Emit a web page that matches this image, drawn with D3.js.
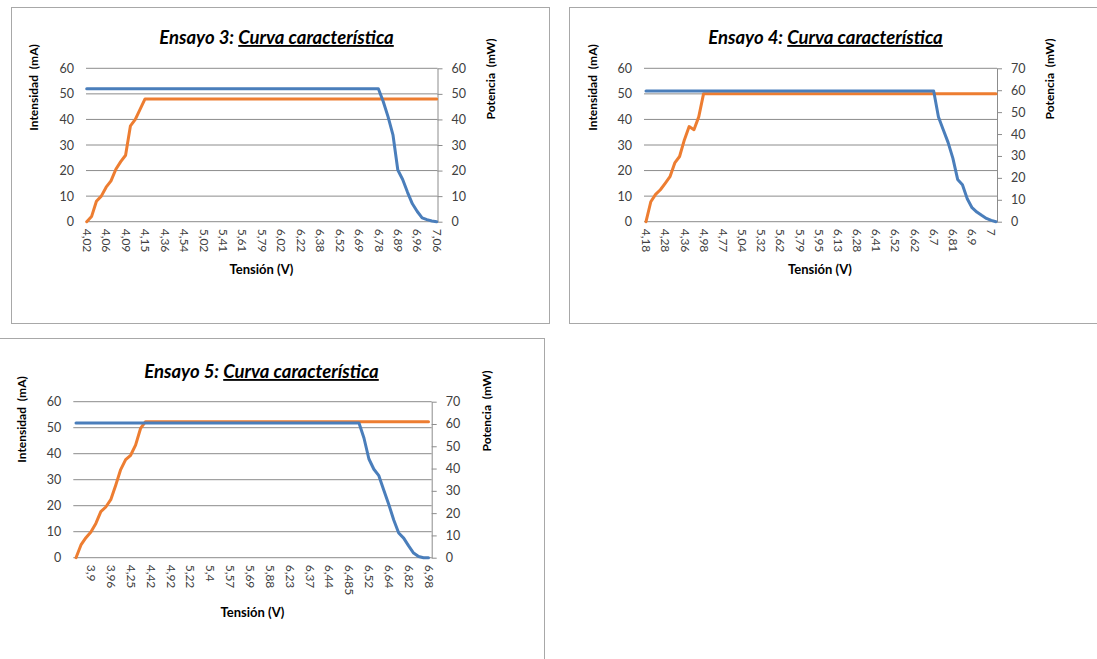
<!DOCTYPE html>
<html>
<head>
<meta charset="utf-8">
<script src="https://cdn.jsdelivr.net/npm/d3@7"></script>
<style>
  body { margin: 0; background: #fff; }
  svg { display: block; }
  text { font-family: Lato, "Open Sans", sans-serif; }
</style>
</head>
<body>
<svg id="chart" width="1097" height="659"></svg>
<script>
// ---------- Ensayo 3 ----------
const tension3 = ["4,02","4,06","4,09","4,15","4,36","4,54","5,02","5,41","5,61","5,79",
                  "6,02","6,22","6,38","6,52","6,69","6,78","6,89","6,96","7,06"];
// Intensidad (mA), left axis
const intensidad3 = [
  0, 2, 8, 10, 13.5, 16, 20.5, 23.5, 26, 37.5,
  40, 44, 48, 48, 48, 48, 48, 48, 48, 48,
  48, 48, 48, 48, 48, 48, 48, 48, 48, 48,
  48, 48, 48, 48, 48, 48, 48, 48, 48, 48,
  48, 48, 48, 48, 48, 48, 48, 48, 48, 48,
  48, 48, 48, 48, 48, 48, 48, 48, 48, 48,
  48, 48, 48, 48, 48, 48, 48, 48, 48, 48,
  48, 48, 48
];
// Potencia (mW), right axis
const potencia3 = [
  52, 52, 52, 52, 52, 52, 52, 52, 52, 52,
  52, 52, 52, 52, 52, 52, 52, 52, 52, 52,
  52, 52, 52, 52, 52, 52, 52, 52, 52, 52,
  52, 52, 52, 52, 52, 52, 52, 52, 52, 52,
  52, 52, 52, 52, 52, 52, 52, 52, 52, 52,
  52, 52, 52, 52, 52, 52, 52, 52, 52, 52,
  52, 47, 41, 34, 20.2, 16.5, 11.5, 7, 4, 1.5,
  0.8, 0.3, 0
];

// ---------- Ensayo 4 ----------
const tension4 = ["4,18","4,28","4,36","4,98","4,77","5,04","5,32","5,62","5,79","5,95",
                  "6,13","6,28","6,41","6,52","6,62","6,7","6,81","6,9","7"];
const intensidad4 = [
  0, 7.8, 10.7, 12.5, 15, 17.6, 23, 25.5, 32, 37.2,
  36, 41, 50, 50, 50, 50, 50, 50, 50, 50,
  50, 50, 50, 50, 50, 50, 50, 50, 50, 50,
  50, 50, 50, 50, 50, 50, 50, 50, 50, 50,
  50, 50, 50, 50, 50, 50, 50, 50, 50, 50,
  50, 50, 50, 50, 50, 50, 50, 50, 50, 50,
  50, 50, 50, 50, 50, 50, 50, 50, 50, 50,
  50, 50, 50, 50
];
const potencia4 = [
  59.6, 59.6, 59.6, 59.6, 59.6, 59.6, 59.6, 59.6, 59.6, 59.6,
  59.6, 59.6, 59.6, 59.6, 59.6, 59.6, 59.6, 59.6, 59.6, 59.6,
  59.6, 59.6, 59.6, 59.6, 59.6, 59.6, 59.6, 59.6, 59.6, 59.6,
  59.6, 59.6, 59.6, 59.6, 59.6, 59.6, 59.6, 59.6, 59.6, 59.6,
  59.6, 59.6, 59.6, 59.6, 59.6, 59.6, 59.6, 59.6, 59.6, 59.6,
  59.6, 59.6, 59.6, 59.6, 59.6, 59.6, 59.6, 59.6, 59.6, 59.6,
  59.6, 47.8, 42, 36.2, 29, 19.3, 16.9, 10.5, 6.4, 4.4,
  2.9, 1.5, 0.6, 0
];

// ---------- Ensayo 5 ----------
const tension5 = ["3,9","3,96","4,25","4,42","4,92","5,22","5,4","5,57","5,69","5,88",
                  "6,23","6,37","6,44","6,485","6,52","6,64","6,82","6,98"];
const intensidad5 = [
  0, 4.9, 7.7, 9.9, 13.2, 17.7, 19.5, 22.3, 27.9, 33.9,
  37.7, 39.4, 43.3, 49.7, 52.3, 52.3, 52.3, 52.3, 52.3, 52.3,
  52.3, 52.3, 52.3, 52.3, 52.3, 52.3, 52.3, 52.3, 52.3, 52.3,
  52.3, 52.3, 52.3, 52.3, 52.3, 52.3, 52.3, 52.3, 52.3, 52.3,
  52.3, 52.3, 52.3, 52.3, 52.3, 52.3, 52.3, 52.3, 52.3, 52.3,
  52.3, 52.3, 52.3, 52.3, 52.3, 52.3, 52.3, 52.3, 52.3, 52.3,
  52.3, 52.3, 52.3, 52.3, 52.3, 52.3, 52.3, 52.3, 52.3, 52.3,
  52.3, 52.3
];
const potencia5 = [
  60.4, 60.4, 60.4, 60.4, 60.4, 60.4, 60.4, 60.4, 60.4, 60.4,
  60.4, 60.4, 60.4, 60.4, 60.4, 60.4, 60.4, 60.4, 60.4, 60.4,
  60.4, 60.4, 60.4, 60.4, 60.4, 60.4, 60.4, 60.4, 60.4, 60.4,
  60.4, 60.4, 60.4, 60.4, 60.4, 60.4, 60.4, 60.4, 60.4, 60.4,
  60.4, 60.4, 60.4, 60.4, 60.4, 60.4, 60.4, 60.4, 60.4, 60.4,
  60.4, 60.4, 60.4, 60.4, 60.4, 60.4, 60.4, 60.4, 53.7, 44.3,
  39.7, 36.8, 30.3, 23.9, 16.9, 11.1, 8.8, 5.3, 2.1, 0.5,
  0, 0
];

const leftTicks = [0, 10, 20, 30, 40, 50, 60];
const rightTicks60 = [0, 10, 20, 30, 40, 50, 60];
const rightTicks70 = [0, 10, 20, 30, 40, 50, 60, 70];

// Panel layout: frame, plot area, title and axis-title anchors
const panels = [
  { name: "Ensayo 3", tension: tension3, intensidad: intensidad3, potencia: potencia3,
    labelStart: 0, labelEvery: 4, rightTicks: rightTicks60,
    frame: [11.5, 7.5, 538, 316],
    plot: { left: 86, right: 437.5, top: 68.3, bottom: 221.7 }, xRange: [86.7, 436.7],
    title: [276.5, 44], yTitleL: [34, 87.5], yTitleR: [491, 79], xTitle: [261.5, 274] },
  { name: "Ensayo 4", tension: tension4, intensidad: intensidad4, potencia: potencia4,
    labelStart: 0, labelEvery: 4, rightTicks: rightTicks70,
    frame: [569.5, 7.5, 540, 316],
    plot: { left: 644, right: 997, top: 68.3, bottom: 221.7 }, xRange: [646, 996],
    title: [825.5, 44], yTitleL: [593, 87.5], yTitleR: [1050, 79], xTitle: [820, 274] },
  { name: "Ensayo 5", tension: tension5, intensidad: intensidad5, potencia: potencia5,
    labelStart: 3, labelEvery: 4, rightTicks: rightTicks70,
    frame: [-2.5, 338.5, 547, 330],
    plot: { left: 73.3, right: 431.7, top: 401.7, bottom: 557.7 }, xRange: [76, 428.5],
    title: [261.5, 378], yTitleL: [22, 419.5], yTitleR: [487, 411], xTitle: [252.5, 617] }
];

const svg = d3.select("#chart");
const BLUE = "#4a7ebb", ORANGE = "#ed7d31", GRID = "#8c8c8c", TXT = "#404040";

panels.forEach(p => {
  const g = svg.append("g");
  const P = p.plot;

  g.append("rect")
    .attr("x", p.frame[0]).attr("y", p.frame[1])
    .attr("width", p.frame[2]).attr("height", p.frame[3])
    .attr("fill", "#fff").attr("stroke", "#a8a8a8").attr("stroke-width", 1);

  const n = p.intensidad.length;
  const x = d3.scaleLinear().domain([0, n - 1]).range(p.xRange);
  const yL = d3.scaleLinear().domain([0, 60]).range([P.bottom, P.top]);
  const yR = d3.scaleLinear().domain([0, d3.max(p.rightTicks)]).range([P.bottom, P.top]);

  // horizontal gridlines from the primary axis
  g.append("g").selectAll("line").data(leftTicks).join("line")
    .attr("x1", P.left).attr("x2", P.right)
    .attr("y1", d => yL(d)).attr("y2", d => yL(d))
    .attr("stroke", GRID).attr("stroke-width", 1);

  // primary (left) axis labels
  const la = g.append("g").attr("transform", `translate(${P.left},0)`)
    .call(d3.axisLeft(yL).tickValues(leftTicks).tickSize(0).tickPadding(12));
  la.select(".domain").remove();
  la.selectAll("text").attr("fill", TXT).style("font-size", "12.5px").attr("font-family", null);

  // secondary (right) axis with outward marks
  const ra = g.append("g").attr("transform", `translate(${P.right},0)`)
    .call(d3.axisRight(yR).tickValues(p.rightTicks).tickSize(5).tickSizeOuter(0).tickPadding(9));
  ra.select(".domain").attr("stroke", GRID);
  ra.selectAll("line").attr("stroke", GRID);
  ra.selectAll("text").attr("fill", TXT).style("font-size", "12.5px").attr("font-family", null);

  // category axis with every fourth label, rotated
  const tickIdx = p.tension.map((_, i) => p.labelStart + i * p.labelEvery);
  const ba = g.append("g").attr("transform", `translate(0,${P.bottom})`)
    .call(d3.axisBottom(x).tickValues(tickIdx).tickFormat((d, i) => p.tension[i]).tickSize(0));
  ba.select(".domain").remove();
  ba.selectAll("text")
    .attr("transform", "rotate(90)")
    .attr("x", 7).attr("y", 0).attr("dy", "0.36em")
    .attr("text-anchor", "start")
    .attr("fill", TXT).style("font-size", "12px").attr("font-family", null);

  // series lines: primary first, secondary drawn on top
  const lineL = d3.line().x((d, i) => x(i)).y(d => yL(d));
  const lineR = d3.line().x((d, i) => x(i)).y(d => yR(d));
  g.append("path").datum(p.intensidad).attr("d", lineL)
    .attr("fill", "none").attr("stroke", ORANGE).attr("stroke-width", 3)
    .attr("stroke-linejoin", "round").attr("stroke-linecap", "round");
  g.append("path").datum(p.potencia).attr("d", lineR)
    .attr("fill", "none").attr("stroke", BLUE).attr("stroke-width", 3)
    .attr("stroke-linejoin", "round").attr("stroke-linecap", "round");

  // chart title
  const t = g.append("text")
    .attr("x", p.title[0]).attr("y", p.title[1])
    .attr("text-anchor", "middle")
    .style("font-size", "18.5px").style("font-weight", "bold").style("font-style", "italic")
    .attr("fill", "#000");
  t.append("tspan").text(p.name + ": ");
  t.append("tspan").text("Curva característica").style("text-decoration", "underline");

  // axis titles
  g.append("text")
    .attr("transform", `translate(${p.yTitleL[0]},${p.yTitleL[1]}) rotate(-90)`)
    .attr("text-anchor", "middle").attr("dy", "0.35em")
    .style("font-size", "12px").style("font-weight", "bold").style("white-space", "pre")
    .text("Intensidad  (mA)");
  g.append("text")
    .attr("transform", `translate(${p.yTitleR[0]},${p.yTitleR[1]}) rotate(-90)`)
    .attr("text-anchor", "middle").attr("dy", "0.35em")
    .style("font-size", "12px").style("font-weight", "bold").style("white-space", "pre")
    .text("Potencia  (mW)");
  g.append("text")
    .attr("x", p.xTitle[0]).attr("y", p.xTitle[1])
    .attr("text-anchor", "middle")
    .style("font-size", "13px").style("font-weight", "bold")
    .text("Tensión (V)");
});
</script>
</body>
</html>
